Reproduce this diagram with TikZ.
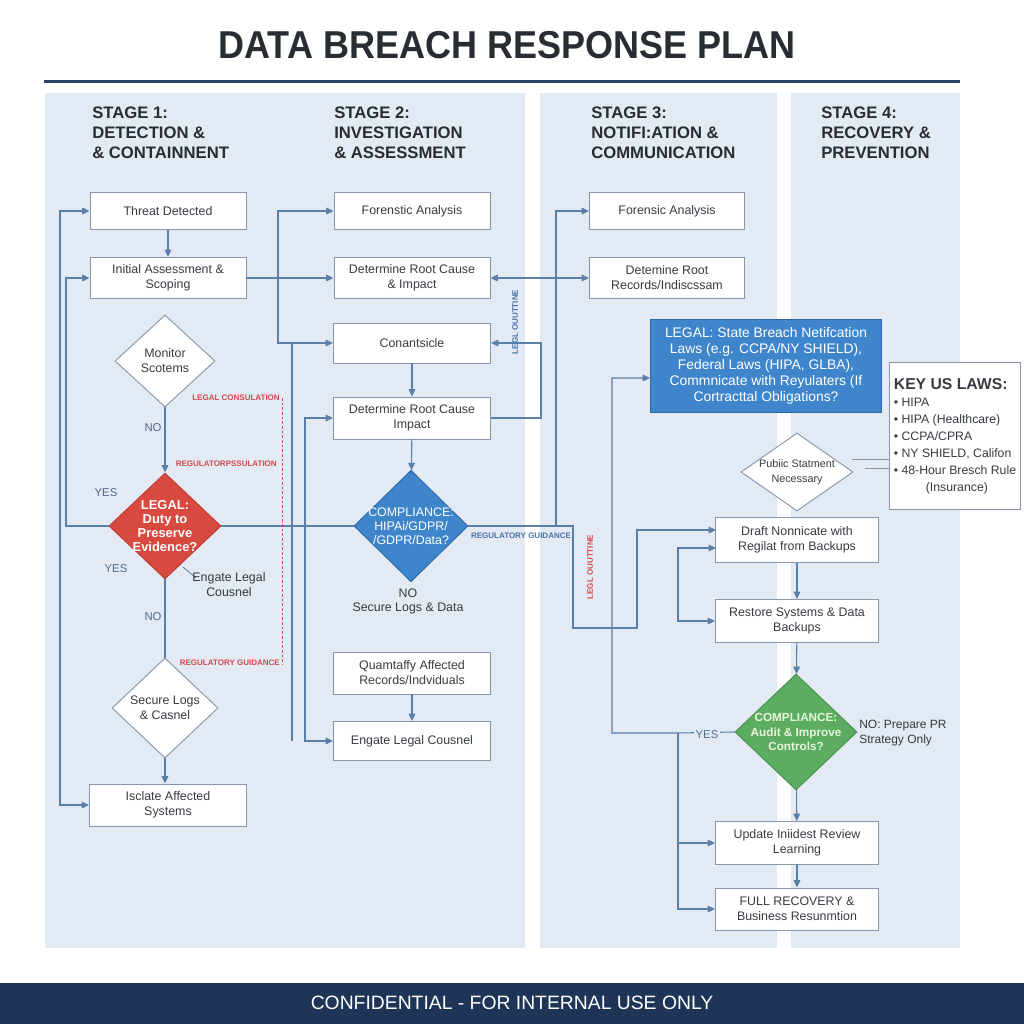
\documentclass[tikz,border=0pt]{standalone}
\usepackage{fontspec}
\setmainfont{Liberation Sans}
\usetikzlibrary{shapes.geometric,arrows.meta,calc}
\definecolor{panel}{RGB}{227,234,243}
\definecolor{linec}{RGB}{90,127,168}
\definecolor{boxb}{RGB}{135,150,171}
\definecolor{txt}{RGB}{55,59,66}
\definecolor{hd}{RGB}{40,44,51}
\definecolor{navy}{RGB}{30,53,87}
\definecolor{rule}{RGB}{43,68,104}
\definecolor{redf}{RGB}{216,74,64}
\definecolor{redd}{RGB}{190,58,52}
\definecolor{bluef}{RGB}{63,133,203}
\definecolor{blued}{RGB}{46,105,168}
\definecolor{greenf}{RGB}{92,172,98}
\definecolor{greend}{RGB}{70,145,78}
\definecolor{greent}{RGB}{232,247,216}
\definecolor{redl}{RGB}{210,74,79}
\definecolor{bluel}{RGB}{74,116,168}
\definecolor{lblc}{RGB}{77,106,142}
\begin{document}
\begin{tikzpicture}[x=0.75pt,y=-0.75pt,
  box/.style={draw=boxb,fill=white,line width=0.7pt,align=center,inner sep=0pt,
    font=\fontsize{9.3}{11.25}\selectfont,text=txt,minimum width=117pt},
  dia/.style={diamond,aspect=1,inner sep=-2pt,align=center,line width=0.7pt},
  conn/.style={draw=linec,line width=0.8pt},
  lbl/.style={font=\fontsize{8.5}{10}\selectfont,text=lblc,inner sep=1pt},
  redlbl/.style={font=\bfseries\fontsize{6}{7}\selectfont,text=redl,inner sep=0pt},
  bluelbl/.style={font=\bfseries\fontsize{6}{7}\selectfont,text=bluel,inner sep=0pt},
  stagehd/.style={anchor=north west,align=left,inner sep=0pt,
    font=\bfseries\fontsize{12.5}{15}\selectfont,text=hd},
  >={Triangle[length=5.5pt,width=5pt]}
]
\useasboundingbox (0,0) rectangle (1024,1024);
\fill[white] (0,0) rectangle (1024,1024);

% title
\node[font=\bfseries\fontsize{27}{30}\selectfont,text=hd] (title) at (507,45) {\scalebox{1}[1.08]{DATA BREACH RESPONSE PLAN}};
\draw[rule,line width=2.25pt] (44,82) -- (960,82);

% panels
\fill[panel] (45,93) rectangle (525,948);
\fill[panel] (540,93) rectangle (777,948);
\fill[panel] (791,93) rectangle (960,948);

% footer
\fill[navy] (0,983) rectangle (1024,1024);
\node[font=\fontsize{14.5}{16}\selectfont,text=white] (foot) at (512,1003) {CONFIDENTIAL - FOR INTERNAL USE ONLY};

% stage headings
\node[stagehd] (h1) at (92,107) {STAGE 1:\\DETECTION \&\\\& CONTAINNENT};
\node[stagehd] (h2) at (334,107) {STAGE 2:\\INVESTIGATION\\\& ASSESSMENT};
\node[stagehd] (h3) at (591,107) {STAGE 3:\\NOTIFI:ATION \&\\COMMUNICATION};
\node[stagehd] (h4) at (821,107) {STAGE 4:\\RECOVERY \&\\PREVENTION};

% ---------- stage 1 ----------
\node[box,minimum height=27.75pt] (t1) at (168,211) {Threat Detected};
\node[box,minimum height=30.75pt] (i1) at (168,278) {Initial Assessment \&\\Scoping};
\node[dia,draw=boxb,fill=white,text=txt,font=\fontsize{9.3}{11.25}\selectfont,
  minimum width=75pt,minimum height=69pt] (m1) at (165,361) {Monitor\\Scotems};
\node[dia,draw=redd,fill=redf,text=white,font=\bfseries\fontsize{9.7}{10.5}\selectfont,
  minimum width=84pt,minimum height=79.5pt] (l1) at (165,526) {LEGAL:\\Duty to\\Preserve\\Evidence?};
\node[dia,draw=boxb,fill=white,text=txt,font=\fontsize{9.3}{11.25}\selectfont,
  minimum width=79.5pt,minimum height=75pt] (s1) at (165,708) {Secure Logs\\\& Casnel};
\node[box,minimum height=31.5pt,minimum width=117.75pt] (iso) at (168,805) {Isclate Affected\\Systems};

% ---------- stage 2 ----------
\node[box,minimum height=27.75pt] (f2) at (412,211) {Forenstic Analysis};
\node[box,minimum height=30.75pt] (d2) at (412,278) {Determine Root Cause\\\& Impact};
\node[box,minimum height=30pt,minimum width=117.75pt] (c2) at (412,343) {Conantsicle};
\node[box,minimum height=31.5pt,minimum width=117.75pt] (r2) at (412,418) {Determine Root Cause\\Impact};
\node[dia,draw=blued,fill=bluef,text=white,font=\fontsize{9.3}{10.5}\selectfont,
  minimum width=85.5pt,minimum height=82.5pt] (cp) at (411,526) {COMPLIANCE:\\HIPAi/GDPR/\\/GDPR/Data?};
\node[box,minimum height=31.5pt,minimum width=117.75pt] (q2) at (412,673) {Quamtaffy Affected\\Records/Indviduals};
\node[box,minimum height=29.25pt,minimum width=117.75pt] (e2) at (412,741) {Engate Legal Cousnel};

% ---------- stage 3 ----------
\node[box,minimum height=27.75pt,minimum width=116.25pt] (f3) at (667,211) {Forensic Analysis};
\node[box,minimum height=30.75pt,minimum width=116.25pt] (d3) at (667,278) {Detemine Root\\Records/Indiscssam};
\node[draw=blued,fill=bluef,text=white,line width=0.7pt,align=center,inner sep=0pt,
  font=\fontsize{10.4}{12}\selectfont,minimum width=173.25pt,minimum height=69.75pt] (lg) at (766,366)
  {LEGAL: State Breach Netifcation\\Laws (e.g. CCPA/NY SHIELD),\\Federal Laws (HIPA, GLBA),\\Commnicate with Reyulaters (If\\Cortracttal Obligations?};
\node[dia,draw=boxb,fill=white,text=txt,font=\fontsize{8.1}{11}\selectfont,inner sep=-6pt,
  minimum width=84pt,minimum height=58.5pt] (ps) at (797,472) {Pubiic Statment\\Necessary};
\node[draw=boxb,fill=white,line width=0.7pt,align=left,inner sep=0pt,text=txt,
  font=\fontsize{9.2}{12.75}\selectfont,minimum width=98.25pt,minimum height=110.25pt] (key) at (955,436)
  {{\bfseries\fontsize{11.8}{13}\selectfont KEY US LAWS:}\\
   \textbullet\ HIPA\\
   \textbullet\ HIPA (Healthcare)\\
   \textbullet\ CCPA/CPRA\\
   \textbullet\ NY SHIELD, Califon\\
   \textbullet\ 48-Hour Bresch Rule\\
   \hspace*{24pt}(Insurance)};

% ---------- stage 4 ----------
\node[box,minimum height=33.75pt,minimum width=122.25pt] (dr) at (797,540) {Draft Nonnicate with\\Regilat from Backups};
\node[box,minimum height=32.25pt,minimum width=122.25pt] (rs) at (797,621) {Restore Systems \& Data\\Backups};
\node[dia,draw=greend,fill=greenf,text=greent,font=\bfseries\fontsize{8.8}{10.8}\selectfont,
  inner xsep=-8pt,inner ysep=0pt,minimum width=91.5pt,minimum height=87pt] (gr) at (796,732) {COMPLIANCE:\\Audit \& Improve\\Controls?};
\node[box,minimum height=32.25pt,minimum width=122.25pt] (up) at (797,843) {Update Iniidest Review\\Learning};
\node[box,minimum height=31.5pt,minimum width=122.25pt] (fr) at (797,909) {FULL RECOVERY \&\\Business Resunmtion};

% ---------- coordinates ----------
\coordinate (a60) at (60,211);
\coordinate (b60) at (60,805);
\coordinate (a66) at (66,278);
\coordinate (b66) at (66,526);
\coordinate (a278) at (278,211);
\coordinate (b278) at (278,343);
\coordinate (a292) at (292,343);
\coordinate (b292) at (292,741);
\coordinate (a305) at (305,418);
\coordinate (b305) at (305,741);
\coordinate (a541) at (541,418);
\coordinate (b541) at (541,343);
\coordinate (a556) at (556,526);
\coordinate (b556) at (556,211);
\coordinate (a573) at (573,526);
\coordinate (b573) at (573,628);
\coordinate (b637) at (637,628);
\coordinate (a637) at (637,530);
\coordinate (dra) at (716,530);
\coordinate (drb) at (716,548);
\coordinate (a678) at (678,548);
\coordinate (b678) at (678,621);
\coordinate (y678) at (678,733);
\coordinate (u678) at (678,843);
\coordinate (f678) at (678,909);
\coordinate (y612) at (612,733);
\coordinate (u612) at (612,378);
\coordinate (lgin) at (650,378);
\coordinate (k1a) at (852,459);
\coordinate (k1b) at (890,459);
\coordinate (k2a) at (865,468);
\coordinate (k2b) at (890,468);
\coordinate (rd1) at (282,398);
\coordinate (rd2) at (282,665);
\coordinate (el1) at (183,567);
\coordinate (el2) at (196,578);

% ---------- connectors ----------
\draw[conn,->] (t1) -- (i1);
\draw[conn,->] (m1) -- (l1);
\draw[conn] (l1) -- (s1);
\draw[conn,->] (s1.south) -- (s1.south |- iso.north);
\draw[conn,<->] (t1.west) -- (a60) -- (b60) -- (iso.west);
\draw[conn,->] (l1.west) -- (b66) -- (a66) -- (i1.west);
\draw[conn] (l1.east) -- (cp.west);
\draw[conn,->] (i1.east) -- (d2.west);
\draw[conn,<->] (d2.east) -- (d3.west);
\draw[conn,<->] (f2.west) -- (a278) -- (b278) -- (c2.west);
\draw[conn] (a292) -- (b292);
\draw[conn,<->] (r2.west) -- (a305) -- (b305) -- (e2.west);
\draw[conn,->] (r2.east) -- (a541) -- (b541) -- (c2.east);
\draw[conn,->] (c2) -- (r2);
\draw[conn,->] (r2) -- (cp);
\draw[conn,->] (q2) -- (e2);
\draw[conn,->] (a556) -- (b556) -- (f3.west);
\draw[conn,->] (cp.east) -- (a573) -- (b573) -- (b637) -- (a637) -- (dra);
\draw[conn,<->] (drb) -- (a678) -- (b678) -- (rs.west);
\draw[conn,->] (gr.west) -- (y678) -- (y612) -- (u612) -- (lgin);
\draw[conn,->] (y678) -- (f678) -- (fr.west);
\draw[conn,->] (u678) -- (up.west);
\draw[conn,->] (dr) -- (rs);
\draw[conn,->] (rs) -- (gr);
\draw[conn,->] (gr) -- (up);
\draw[conn,->] (up) -- (fr);
\draw[boxb,line width=0.6pt] (k1a) -- (k1b);
\draw[boxb,line width=0.6pt] (k2a) -- (k2b);
\draw[redl,line width=0.6pt,dash pattern=on 2pt off 1.5pt] (rd1) -- (rd2);
\draw[linec,line width=0.6pt] (el1) -- (el2);

% ---------- labels ----------
\node[lbl] (no1) at (153,428) {NO};
\node[lbl] (yes1) at (106,493) {YES};
\node[lbl] (yes2) at (116,569) {YES};
\node[lbl] (no2) at (153,617) {NO};
\node[font=\fontsize{9.3}{11.25}\selectfont,text=txt,align=center,inner sep=0pt] (elc) at (229,585) {Engate Legal\\Cousnel};
\node[redlbl,anchor=east] (rl1) at (280,398) {LEGAL CONSULATION};
\node[redlbl,anchor=east] (rl2) at (277,464) {REGULATORPSSULATION};
\node[redlbl,anchor=east] (rl3) at (280,663) {REGULATORY GUIDANCE};
\node[bluelbl] (bl1) at (521,536) {REGULATORY GUIDANCE};
\node[bluelbl,rotate=90] (vb) at (515,322) {LEGL OUUTTINE};
\node[redlbl,rotate=90] (vr) at (590,567) {LEGL OUUTTINE};
\node[lbl,font=\fontsize{9.3}{11.25}\selectfont,text=txt] (nolbl) at (408,593) {NO};
\node[font=\fontsize{9.3}{11.25}\selectfont,text=txt,inner sep=0pt] (sld) at (408,608) {Secure Logs \& Data};
\node[lbl,fill=panel] (yes3) at (707,735) {YES};
\node[font=\fontsize{9}{11.25}\selectfont,text=txt,align=left,anchor=west,inner sep=0pt] (prl) at (859,733) {NO: Prepare PR\\Strategy Only};
\end{tikzpicture}
\end{document}
